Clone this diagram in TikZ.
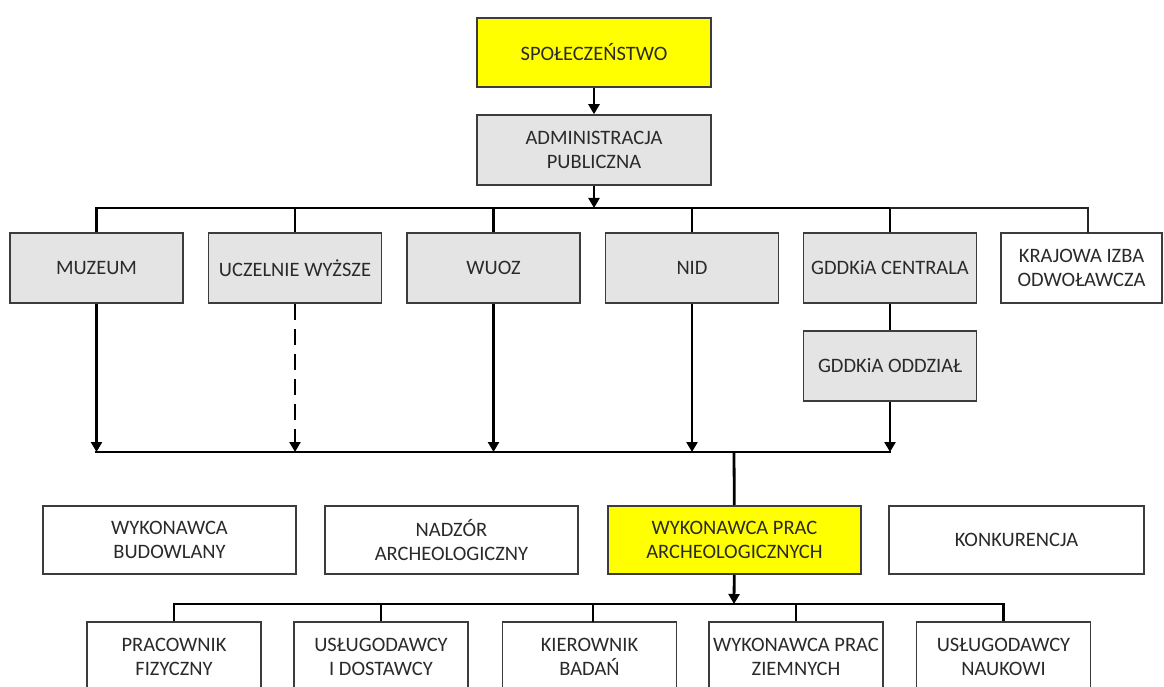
\documentclass[tikz,border=0pt]{standalone}
\usepackage{fontspec}
\setmainfont{Carlito}
\usetikzlibrary{arrows.meta}
\definecolor{txt}{HTML}{2A2A2A}
\definecolor{boxgray}{HTML}{E4E4E4}
\definecolor{boxyellow}{HTML}{FFFF00}
\definecolor{edgecol}{HTML}{3C3C3C}
\begin{document}
\begin{tikzpicture}[x=1pt,y=-1pt,
  box/.style={draw=edgecol, line width=1.6pt, align=center, text=txt,
    font=\fontsize{20.5}{24.5}\selectfont, inner sep=0pt, fill=white},
  greybox/.style={box, fill=boxgray},
  yelbox/.style={box, fill=boxyellow},
  conn/.style={line width=2.8pt, black},
  thinconn/.style={line width=1.5pt, black!85},
  arr/.style={conn, -{Triangle[width=11pt,length=10pt]}},
]
\useasboundingbox (0,0) rectangle (1164,687);
\fill[white] (0,0) rectangle (1164,687);

% top
\node[yelbox, minimum width=234pt, minimum height=69pt] (spol) at (594,52.5) {SPOŁECZEŃSTWO};
\node[greybox, minimum width=234pt, minimum height=70pt] (adm) at (594,150) {ADMINISTRACJA\\PUBLICZNA};

% row 1
\tikzset{r1/.style={minimum width=173pt, minimum height=70pt}}
\node[greybox, r1] (muz) at (96.5,268) {MUZEUM};
\node[greybox, r1] (ucz) at (295,268) {UCZELNIE WYŻSZE};
\node[greybox, r1] (wuoz) at (493.5,268) {WUOZ};
\node[greybox, r1] (nid) at (692,268) {NID};
\node[greybox, r1] (gc) at (890,268) {GDDKiA CENTRALA};
\node[box, minimum width=161pt, minimum height=70pt] (kio) at (1081.5,268) {KRAJOWA IZBA\\ODWOŁAWCZA};
\node[greybox, r1] (go) at (890,366) {GDDKiA ODDZIAŁ};

% row 2
\tikzset{r2/.style={minimum width=253pt, minimum height=68pt}}
\node[box, r2] (wb) at (169.5,540) {WYKONAWCA\\BUDOWLANY};
\node[box, r2] (nadz) at (451.5,540) {NADZÓR\\ARCHEOLOGICZNY};
\node[yelbox, r2] (wpa) at (734.5,540) {WYKONAWCA PRAC\\ARCHEOLOGICZNYCH};
\node[box, minimum width=255pt, minimum height=68pt] (konk) at (1016.5,540) {KONKURENCJA};

% row 3
\tikzset{r3/.style={minimum width=174pt, minimum height=70pt}}
\node[box, r3] (prac) at (174,657) {PRACOWNIK\\FIZYCZNY};
\node[box, r3] (usl) at (381,657) {USŁUGODAWCY\\I DOSTAWCY};
\node[box, r3] (kier) at (589.5,657) {KIEROWNIK\\BADAŃ};
\node[box, r3] (wpz) at (796,657) {WYKONAWCA PRAC\\ZIEMNYCH};
\node[box, r3] (usn) at (1003.5,657) {USŁUGODAWCY\\NAUKOWI};

% buses
\coordinate (bus1) at (594,208);
\coordinate (bus2) at (734,452);
\coordinate (bus3) at (734,604);
\coordinate (kiotop) at (1088,233);
\coordinate (kiertop) at (593,622);

\draw[arr] (spol) -- (adm);
\draw[arr] (adm) -- (bus1);
\draw[conn] (muz) |- (bus1) -| (gc);
\draw[conn] (ucz.north |- bus1) -- (ucz);
\draw[conn] (wuoz.north |- bus1) -- (wuoz);
\draw[conn] (nid.north |- bus1) -- (nid);
\draw[thinconn] (gc.north |- bus1) -| (kiotop);

\draw[arr] (muz) -- (muz |- bus2);
\draw[arr, dash pattern=on 16pt off 9pt] (ucz) -- (ucz |- bus2);
\draw[arr] (wuoz) -- (wuoz |- bus2);
\draw[arr] (nid) -- (nid |- bus2);
\draw[conn] (gc) -- (go);
\draw[arr] (go) -- (go |- bus2);
\draw[conn, line cap=rect] (muz |- bus2) -- (go |- bus2);
\draw[conn] (bus2) -- (wpa);

\draw[arr] (wpa) -- (bus3);
\draw[conn] (prac) |- (bus3) -| (usn);
\draw[conn] (usl.north |- bus3) -- (usl);
\draw[conn] (kiertop |- bus3) -- (kiertop);
\draw[conn] (wpz.north |- bus3) -- (wpz);
\end{tikzpicture}
\end{document}
